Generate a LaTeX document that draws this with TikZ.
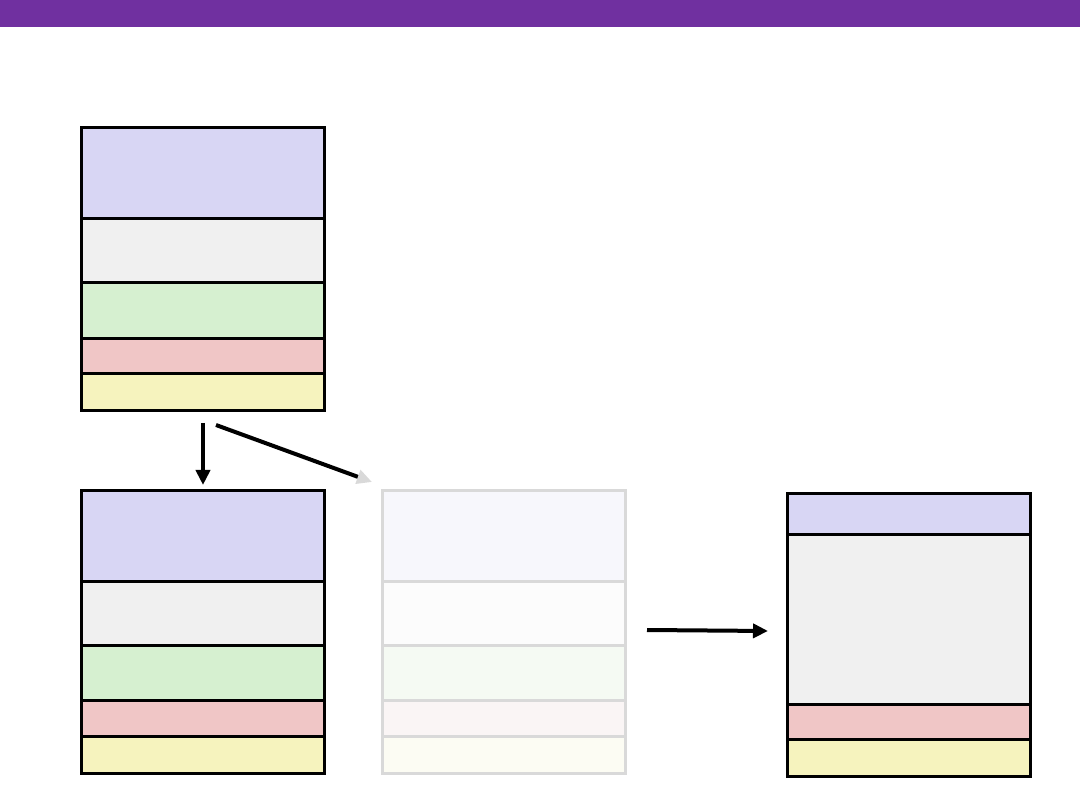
\documentclass[tikz,border=0pt]{standalone}
\usetikzlibrary{arrows.meta}
\definecolor{barpurple}{HTML}{7030A0}
\definecolor{segblue}{HTML}{D8D6F4}
\definecolor{seggray}{HTML}{F0F0F0}
\definecolor{seggreen}{HTML}{D6F0D0}
\definecolor{segpink}{HTML}{F0C6C6}
\definecolor{segyellow}{HTML}{F6F3BE}
\definecolor{fblue}{HTML}{F7F7FC}
\definecolor{fgray}{HTML}{FCFCFC}
\definecolor{fgreen}{HTML}{F5FAF3}
\definecolor{fpink}{HTML}{FAF5F5}
\definecolor{fyellow}{HTML}{FCFCF3}
\definecolor{fborder}{HTML}{D9D9D9}
\begin{document}
\begin{tikzpicture}[x=1pt,y=-1pt,
  seg/.style={draw=black,line width=3pt,rectangle,inner sep=0pt,anchor=north west,minimum width=243pt},
  fseg/.style={seg,draw=fborder},
  arr/.style={line width=4pt,-{Triangle[length=15pt,width=14pt]}},
  farr/.style={line width=4pt,-{Triangle[length=15pt,width=14pt,color=fborder,fill=fborder]}}]
\useasboundingbox (0,0) rectangle (1080,810);
\fill[barpurple] (0,0) rectangle (1080,27);
% Box A
\node[seg,fill=segblue,minimum height=91pt] (a1) at (80,126) {};
\node[seg,fill=seggray,minimum height=64pt] (a2) at (80,217) {};
\node[seg,fill=seggreen,minimum height=56pt] (a3) at (80,281) {};
\node[seg,fill=segpink,minimum height=35pt] (a4) at (80,337) {};
\node[seg,fill=segyellow,minimum height=37pt] (a5) at (80,372) {};
% Box B
\node[seg,fill=segblue,minimum height=91pt] (b1) at (80,489) {};
\node[seg,fill=seggray,minimum height=64pt] (b2) at (80,580) {};
\node[seg,fill=seggreen,minimum height=55pt] (b3) at (80,644) {};
\node[seg,fill=segpink,minimum height=36pt] (b4) at (80,699) {};
\node[seg,fill=segyellow,minimum height=37pt] (b5) at (80,735) {};
% Box C (faded)
\node[fseg,fill=fblue,minimum height=91pt] (c1) at (381,489) {};
\node[fseg,fill=fgray,minimum height=64pt] (c2) at (381,580) {};
\node[fseg,fill=fgreen,minimum height=55pt] (c3) at (381,644) {};
\node[fseg,fill=fpink,minimum height=36pt] (c4) at (381,699) {};
\node[fseg,fill=fyellow,minimum height=37pt] (c5) at (381,735) {};
% Box D
\node[seg,fill=segblue,minimum height=41pt] (d1) at (786,492) {};
\node[seg,fill=seggray,minimum height=170pt] (d2) at (786,533) {};
\node[seg,fill=segpink,minimum height=35pt] (d3) at (786,703) {};
\node[seg,fill=segyellow,minimum height=37pt] (d4) at (786,738) {};
% Arrows
\draw[arr] ([yshift=-11pt]a5.south) -- ([yshift=4pt]b1.north);
\draw[farr] ([xshift=13pt,yshift=-13pt]a5.south) -- ([xshift=-9pt,yshift=7pt]c1.north west);
\coordinate (h1) at (647,630);
\coordinate (h2) at (768,631);
\draw[arr] (h1) -- (h2);
\end{tikzpicture}
\end{document}
